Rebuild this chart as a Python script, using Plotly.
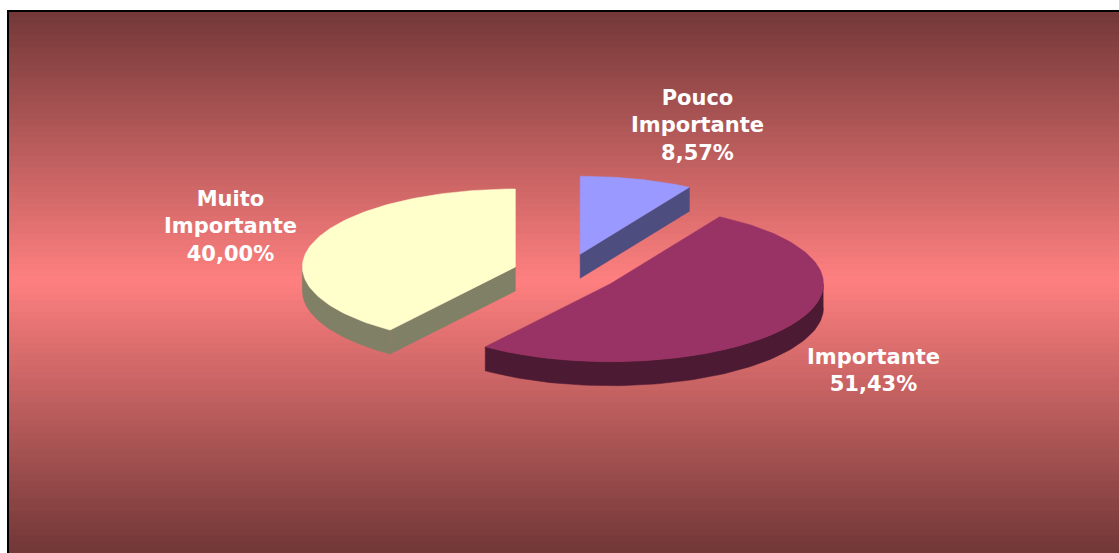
import numpy as np
import plotly.graph_objects as go

# dados do gráfico
labels = ["Pouco<br>Importante", "Importante", "Muito<br>Importante"]
values = [8.57, 51.43, 40.00]

top_colors = ["#9999FF", "#993366", "#FFFFCC"]
side_colors = ["#4D4D80", "#4D1A33", "#808066"]
label_pos = [(697, 125), (873, 370), (230, 226)]

W, H = 1119, 553
cx, cy = 566, 273
rx, ry = 213, 78
depth = 24
explode = 0.25


def pt(theta, r=1.0):
    t = np.radians(theta)
    return r * rx * np.sin(t), -r * ry * np.cos(t)


fig = go.Figure()

# fundo em gradiente
shapes = []
y0, y1 = 11, 553
mid = 280
c_end = np.array([115, 56, 56])
c_mid = np.array([255, 128, 128])
n = 90
for i in range(n):
    a = y0 + (y1 - y0) * i / n
    b = y0 + (y1 - y0) * (i + 1) / n
    t = min(abs((a + b) / 2 - mid) / (mid - y0), 1)
    c = c_mid + (c_end - c_mid) * t
    shapes.append(dict(type="rect", xref="x", yref="y", x0=8, x1=W + 5, y0=a, y1=min(b + 2, H + 5),
                       fillcolor="rgb(%d,%d,%d)" % tuple(c.astype(int)), line=dict(width=0),
                       layer="below"))
# borda (apenas topo e esquerda visíveis)
shapes.append(dict(type="line", xref="x", yref="y", x0=8, x1=W + 5, y0=11, y1=11,
                   line=dict(color="black", width=2), layer="above"))
shapes.append(dict(type="line", xref="x", yref="y", x0=8, x1=8, y0=10, y1=H + 5,
                   line=dict(color="black", width=2), layer="above"))

total = sum(values)
angles = np.cumsum([0] + [v / total * 360 for v in values])

pieces = []
for i, v in enumerate(values):
    s, e = angles[i], angles[i + 1]
    m = (s + e) / 2
    ox, oy = pt(m, explode)
    ax, ay = cx + ox, cy + oy
    pieces.append((i, s, e, ax, ay))

# ordem de desenho: de trás para frente
order = [0, 2, 1]
for i in order:
    _, s, e, ax, ay = pieces[i]
    # paredes radiais visíveis
    for th, sign in ((s, -90), (e, 90)):
        if np.cos(np.radians(th + sign)) < -1e-6:
            px, py = pt(th)
            xs = [ax, ax + px, ax + px, ax, ax]
            ys = [ay, ay + py, ay + py + depth, ay + depth, ay]
            fig.add_trace(go.Scatter(x=xs, y=ys, fill="toself", mode="lines",
                                     fillcolor=side_colors[i], line=dict(width=0.5, color=side_colors[i]),
                                     hoverinfo="skip", showlegend=False))
    # parede curva externa
    a0, a1 = max(s, 90), min(e, 270)
    if a1 > a0:
        th = np.linspace(a0, a1, 80)
        px, py = pt(th)
        xs = list(ax + px) + list(ax + px[::-1])
        ys = list(ay + py) + list(ay + py[::-1] + depth)
        fig.add_trace(go.Scatter(x=xs, y=ys, fill="toself", mode="lines",
                                 fillcolor=side_colors[i], line=dict(width=0.5, color=side_colors[i]),
                                 hoverinfo="skip", showlegend=False))
    # face superior
    th = np.linspace(s, e, 120)
    px, py = pt(th)
    xs = [ax] + list(ax + px) + [ax]
    ys = [ay] + list(ay + py) + [ay]
    fig.add_trace(go.Scatter(x=xs, y=ys, fill="toself", mode="lines",
                             fillcolor=top_colors[i], line=dict(width=0.5, color=top_colors[i]),
                             hoverinfo="skip", showlegend=False))

annotations = []
for lab, v, (lx, ly) in zip(labels, values, label_pos):
    txt = lab + "<br>" + ("%.2f%%" % v).replace(".", ",")
    annotations.append(dict(x=lx, y=ly, xref="x", yref="y", text=txt, showarrow=False,
                            align="center", xanchor="center", yanchor="middle",
                            font=dict(family="DejaVu Sans", size=21, color="white", weight="bold")))

fig.update_layout(
    width=W, height=H,
    margin=dict(l=0, r=0, t=0, b=0),
    paper_bgcolor="white", plot_bgcolor="white",
    xaxis=dict(range=[0, W], visible=False, fixedrange=True),
    yaxis=dict(range=[H, 0], visible=False, fixedrange=True),
    shapes=shapes, annotations=annotations,
)

# remove a margem padrão da página para o gráfico ocupar a janela inteira
fig.write_html("out.html", config={"displayModeBar": False},
               post_script="document.body.style.margin='0px';document.body.style.overflow='hidden';")
